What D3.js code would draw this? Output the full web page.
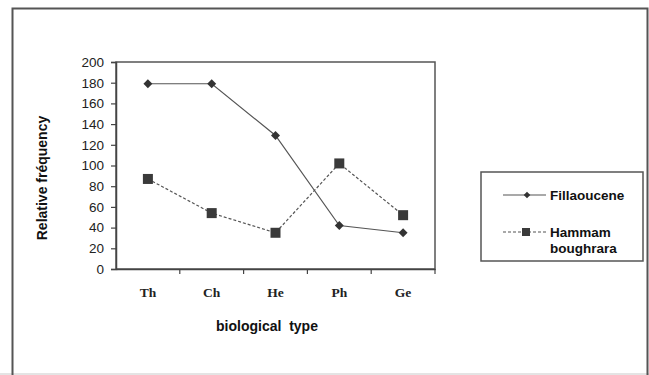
<!DOCTYPE html>
<html><head><meta charset="utf-8">
<script src="https://cdn.jsdelivr.net/npm/d3@7"></script>
<style>html,body{margin:0;padding:0;background:#fff;}svg{display:block;}</style>
</head><body>
<svg id="c" width="649" height="375"></svg>
<script>
const categories = ["Th","Ch","He","Ph","Ge"];
const fillaoucene = [179,179,129,42,35];
const hammam = [87,54,35,102,52];
const yTicks = [0,20,40,60,80,100,120,140,160,180,200];
const seriesNames = ["Fillaoucene","Hammam boughrara"];

const svg = d3.select("#c");
const W=649,H=375;
svg.append("rect").attr("x",0).attr("y",0).attr("width",W).attr("height",H).attr("fill","#fff");
svg.append("rect").attr("x",0).attr("y",373).attr("width",W).attr("height",2).attr("fill","#e4e4e4");
svg.append("path").attr("d","M12.5,376V8.5H647.5V376").attr("fill","none").attr("stroke","#555").attr("stroke-width",2);

const L=116,R=435,T=62,B=269;
const x = d3.scaleBand().domain(categories).range([L,R]);
const y = d3.scaleLinear().domain([0,200]).range([B,T]);
const g = svg.append("g");
g.append("rect").attr("x",L).attr("y",T).attr("width",R-L).attr("height",B-T).attr("fill","none").attr("stroke","#555").attr("stroke-width",1.5);

const yAxis = g.append("g").attr("transform",`translate(${L},0)`)
  .call(d3.axisLeft(y).tickValues(yTicks).tickSize(5).tickPadding(7));
yAxis.select(".domain").attr("stroke","#444").attr("stroke-width",1.5);
yAxis.selectAll(".tick line").attr("stroke","#444").attr("stroke-width",1.2);
yAxis.selectAll("text").attr("font-family","Liberation Sans, Arial, sans-serif").attr("font-size",13.5).attr("fill","#222");

const xAxis = g.append("g").attr("transform",`translate(0,${B})`)
  .call(d3.axisBottom(x).tickSize(0).tickPadding(18));
xAxis.select(".domain").attr("stroke","#444").attr("stroke-width",1.5);
xAxis.selectAll("text").attr("font-family","Liberation Serif, Times New Roman, serif").attr("font-weight","bold").attr("font-size",13.5).attr("fill","#222");
const bounds = categories.map(c=>x(c)).concat([R]);
g.selectAll(".bt").data(bounds.slice(1)).enter().append("line")
  .attr("x1",d=>d).attr("x2",d=>d).attr("y1",B).attr("y2",B+5).attr("stroke","#444").attr("stroke-width",1.2);

const cx = c=>x(c)+x.bandwidth()/2;
const line = d3.line().x((d,i)=>cx(categories[i])).y(d=>y(d));
g.append("path").datum(fillaoucene).attr("d",line).attr("fill","none").attr("stroke","#555").attr("stroke-width",1.2);
g.append("path").datum(hammam).attr("d",line).attr("fill","none").attr("stroke","#555").attr("stroke-width",1.2).attr("stroke-dasharray","3,2");

const dia = d3.symbol().type(d3.symbolSquare).size(40);
g.selectAll(".dm").data(fillaoucene).enter().append("path")
  .attr("transform",(d,i)=>`translate(${cx(categories[i])},${y(d)}) rotate(45)`)
  .attr("d",dia).attr("fill","#333");
g.selectAll(".sq").data(hammam).enter().append("rect")
  .attr("x",(d,i)=>cx(categories[i])-5).attr("y",d=>y(d)-5).attr("width",10).attr("height",10).attr("fill","#3a3a3a");

svg.append("text").attr("transform","translate(47,178) rotate(-90)").attr("text-anchor","middle")
  .attr("font-family","Liberation Sans, Arial, sans-serif").attr("font-weight","bold").attr("font-size",14).attr("fill","#111")
  .text("Relative fréquency");
svg.append("text").attr("x",267).attr("y",331).attr("text-anchor","middle")
  .attr("font-family","Liberation Sans, Arial, sans-serif").attr("font-weight","bold").attr("font-size",14).attr("fill","#111")
  .text("biological  type").attr("xml:space","preserve").style("white-space","pre");

const lg = svg.append("g");
lg.append("rect").attr("x",481).attr("y",172).attr("width",162).attr("height",89).attr("fill","#fff").attr("stroke","#555").attr("stroke-width",1.5);
lg.append("line").attr("x1",503).attr("x2",546).attr("y1",195).attr("y2",195).attr("stroke","#555").attr("stroke-width",1.2);
lg.append("path").attr("transform","translate(527,195) rotate(45)").attr("d",d3.symbol().type(d3.symbolSquare).size(22)).attr("fill","#333");
lg.append("line").attr("x1",503).attr("x2",546).attr("y1",232).attr("y2",232).attr("stroke","#555").attr("stroke-width",1.2).attr("stroke-dasharray","3,2");
lg.append("rect").attr("x",522).attr("y",228).attr("width",8).attr("height",8).attr("fill","#3a3a3a");
const lt = lg.append("g").attr("font-family","Liberation Sans, Arial, sans-serif").attr("font-weight","bold").attr("font-size",13.5).attr("fill","#111");
lt.append("text").attr("x",550).attr("y",200).text(seriesNames[0]);
const ht = lt.append("text").attr("x",550).attr("y",237);
ht.append("tspan").attr("x",550).text(seriesNames[1].split(" ")[0]);
ht.append("tspan").attr("x",550).attr("dy",16).text(seriesNames[1].split(" ")[1]);
</script>
</body></html>
